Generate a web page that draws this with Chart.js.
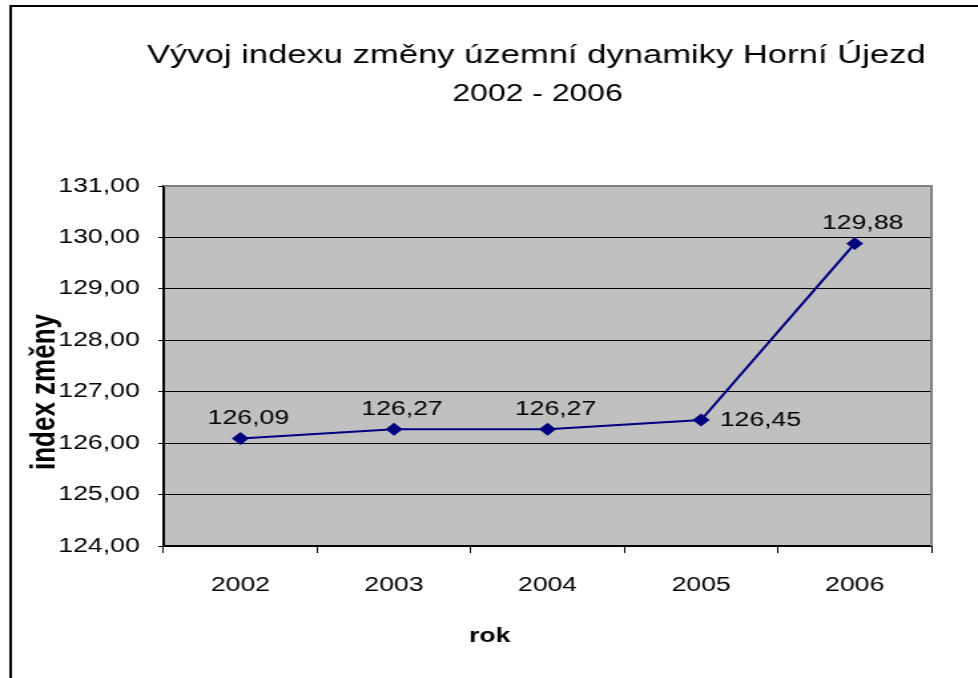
<!DOCTYPE html>
<html lang="cs">
<head>
    <meta charset="UTF-8">
    <title>Vývoj indexu změny územní dynamiky Horní Újezd</title>
    <script src="https://cdn.jsdelivr.net/npm/chart.js"></script>
    <style>
        html, body { margin: 0; padding: 0; background: #ffffff; overflow: hidden; }
        /* the original picture is stretched sideways, so the canvas is drawn
           narrower and widened with CSS */
        #myChart { display: block; width: 978px; height: 678px; }
    </style>
</head>
<body>
<canvas id="myChart" width="735" height="678" style="width:978px;height:678px"></canvas>
<script>
    // data
    const years = ['2002', '2003', '2004', '2005', '2006'];
    const indexValues = [126.09, 126.27, 126.27, 126.45, 129.88];
    const yTicks = [124, 125, 126, 127, 128, 129, 130, 131];
    const titleLines = ['Vývoj indexu změny územní dynamiky Horní Újezd', '2002 - 2006'];
    const xTitle = 'rok';
    const yTitle = 'index změny';

    const FONT = '"Liberation Sans", Arial, sans-serif';
    const NAVY = '#000080';

    // where each value label sits next to its point
    const labelPlace = ['above', 'above', 'above', 'right', 'above'];

    const czNum = v => v.toFixed(2).replace('.', ',');

    // gray plot area + border, outer frame, chart title and axis titles
    const backdrop = {
        id: 'backdrop',
        beforeDraw(chart) {
            const { ctx, chartArea: a } = chart;
            ctx.save();
            ctx.fillStyle = '#c0c0c0';
            ctx.fillRect(a.left, a.top, a.right - a.left, a.bottom - a.top);
            ctx.strokeStyle = '#000000';
            ctx.lineWidth = 2;
            ctx.beginPath();
            ctx.moveTo(8, chart.height);
            ctx.lineTo(8, 6);
            ctx.lineTo(chart.width, 6);
            ctx.stroke();

            // chart title
            ctx.fillStyle = '#000000';
            ctx.textAlign = 'center';
            ctx.textBaseline = 'middle';
            ctx.font = '26px ' + FONT;
            ctx.fillText(titleLines[0], 403, 56);
            ctx.font = '24px ' + FONT;
            ctx.fillText(titleLines[1], 404, 94);

            // axis titles
            ctx.font = 'bold 20px ' + FONT;
            ctx.fillText(xTitle, 368, 636);
            ctx.translate(34, 392);
            ctx.rotate(-Math.PI / 2);
            ctx.font = 'bold 26px ' + FONT;
            ctx.fillText(yTitle, 0, 0);
            ctx.restore();
        },
        afterDatasetsDraw(chart) {
            const { ctx, chartArea: a } = chart;
            ctx.save();
            ctx.strokeStyle = '#808080';
            ctx.lineWidth = 2;
            ctx.beginPath();
            ctx.moveTo(a.left, a.top);
            ctx.lineTo(a.right, a.top);
            ctx.lineTo(a.right, a.bottom);
            ctx.stroke();
            ctx.restore();
        }
    };

    // value labels like the Excel chart
    const valueLabels = {
        id: 'valueLabels',
        afterDatasetsDraw(chart) {
            const { ctx } = chart;
            const meta = chart.getDatasetMeta(0);
            ctx.save();
            ctx.font = '20px ' + FONT;
            ctx.fillStyle = '#000000';
            ctx.textBaseline = 'middle';
            meta.data.forEach((pt, i) => {
                const txt = czNum(indexValues[i]);
                if (labelPlace[i] === 'right') {
                    ctx.textAlign = 'left';
                    ctx.fillText(txt, pt.x + 14, pt.y);
                } else {
                    ctx.textAlign = 'center';
                    ctx.fillText(txt, pt.x + 6, pt.y - 20);
                }
            });
            ctx.restore();
        }
    };

    const ctx = document.getElementById('myChart').getContext('2d');
    new Chart(ctx, {
        type: 'line',
        data: {
            labels: years,
            datasets: [{
                label: yTitle,
                data: indexValues,
                borderColor: NAVY,
                backgroundColor: NAVY,
                borderWidth: 2,
                pointStyle: 'rectRot',
                pointRadius: 5,
                pointHoverRadius: 5,
                tension: 0
            }]
        },
        options: {
            responsive: false,
            maintainAspectRatio: false,
            devicePixelRatio: 1,
            animation: false,
            layout: { padding: { left: 18, right: 35, top: 186, bottom: 20 } },
            plugins: {
                legend: { display: false },
                tooltip: { enabled: false },
                title: { display: false }
            },
            scales: {
                x: {
                    offset: true,
                    afterFit: s => { s.height = 112; },
                    grid: {
                        offset: true,
                        drawOnChartArea: false,
                        color: '#000000',
                        tickLength: 7,
                        lineWidth: 1
                    },
                    border: { color: '#000000', width: 2 },
                    ticks: {
                        color: '#000000',
                        font: { family: FONT, size: 20 },
                        padding: 20,
                        maxRotation: 0
                    }
                },
                y: {
                    min: 124,
                    max: 131,
                    afterFit: s => { s.width = 105; },
                    afterBuildTicks: s => { s.ticks = yTicks.map(v => ({ value: v })); },
                    grid: {
                        color: '#000000',
                        tickLength: 4,
                        lineWidth: 1
                    },
                    border: { color: '#000000', width: 2 },
                    ticks: {
                        color: '#000000',
                        font: { family: FONT, size: 20 },
                        padding: 14,
                        callback: v => czNum(v)
                    }
                }
            }
        },
        plugins: [backdrop, valueLabels]
    });
</script>
</body>
</html>
